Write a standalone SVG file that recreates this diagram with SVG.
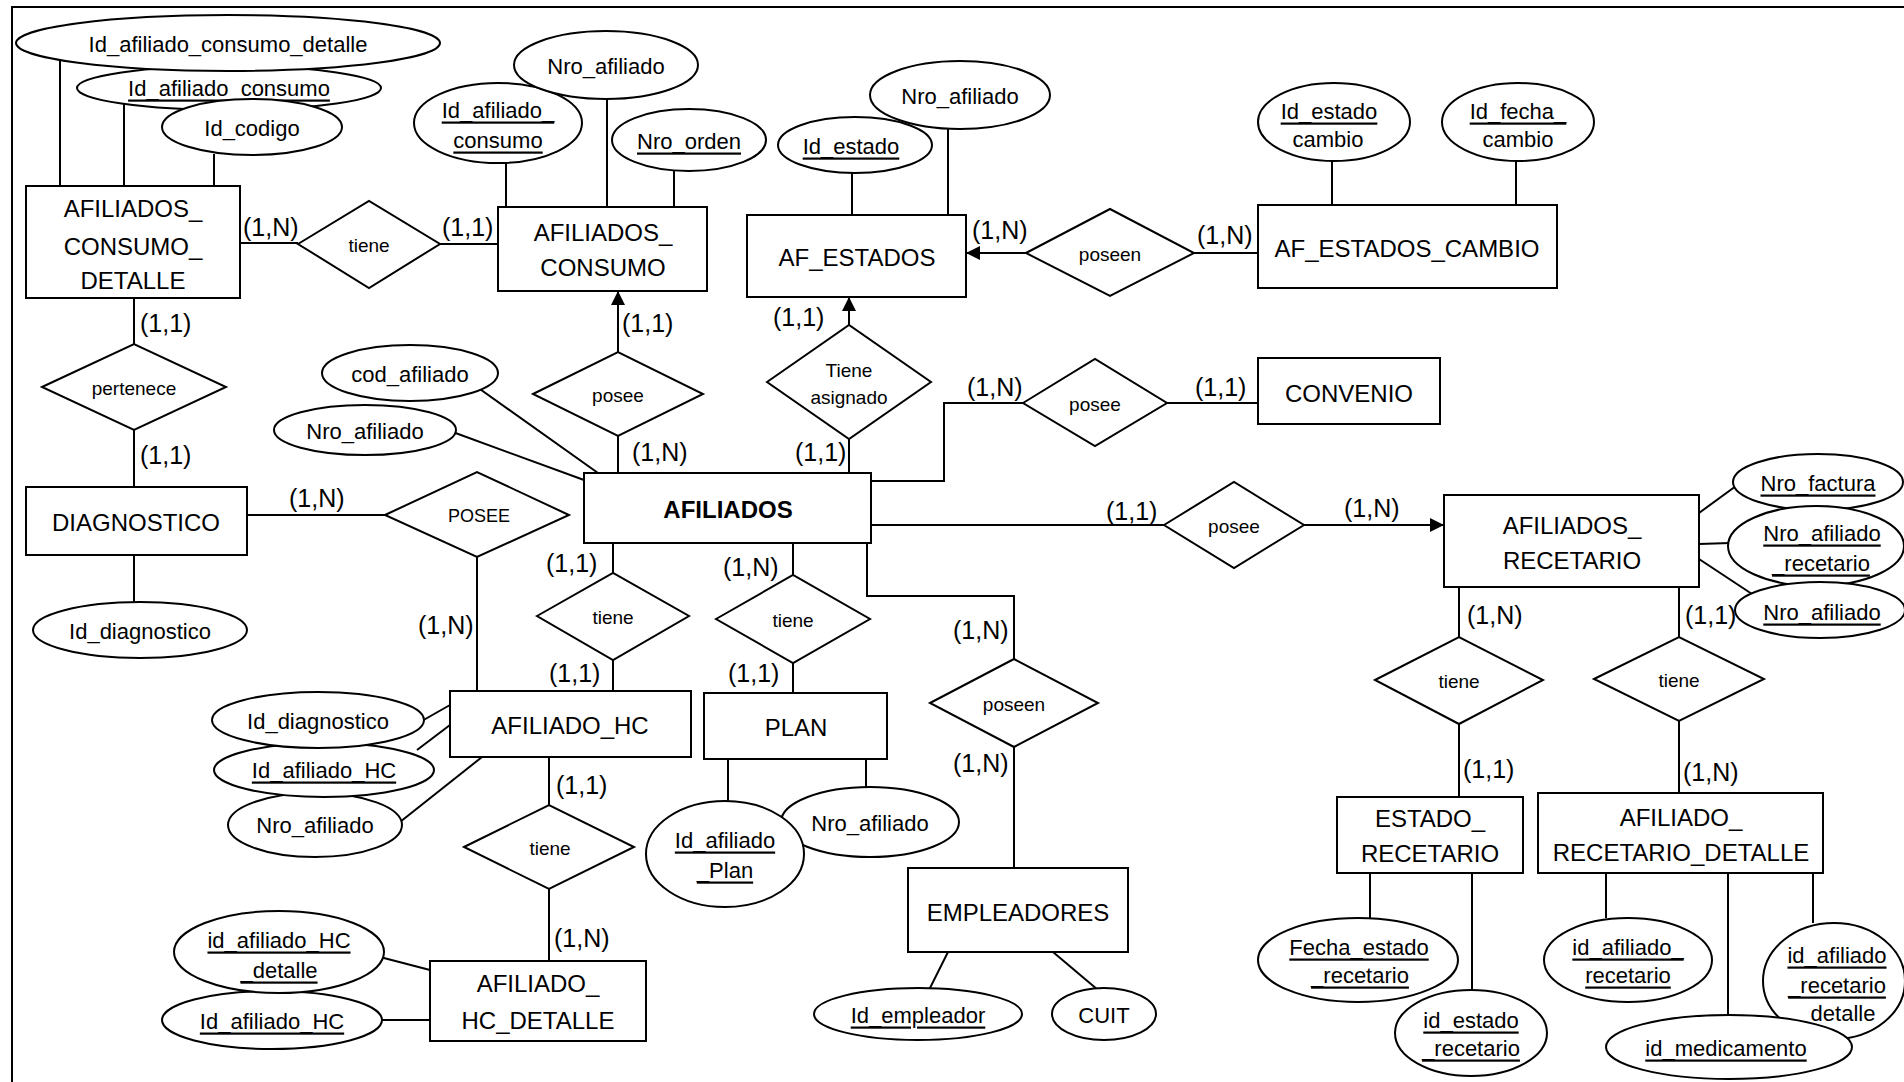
<svg xmlns="http://www.w3.org/2000/svg" width="1904" height="1082" viewBox="0 0 1904 1082">
<defs>
<marker id="arr" markerWidth="14" markerHeight="14" refX="13" refY="7" orient="auto" markerUnits="userSpaceOnUse">
<path d="M0,0 L14,7 L0,14 Z" fill="#000"/>
</marker>
<style>
rect,ellipse,polygon{fill:#fff;stroke:#000;stroke-width:2}
line,polyline{stroke:#000;stroke-width:2;fill:none}
text{font-family:"Liberation Sans",Arial,sans-serif;fill:#000;text-anchor:middle;dominant-baseline:central}
.ent{font-size:24px}
.att{font-size:22px}
.rel{font-size:19px}
.card{font-size:25px;text-anchor:start}
.u{text-decoration:underline}
.b{font-weight:bold}
</style>
</defs>
<rect x="0" y="0" width="1904" height="1082" style="fill:#fff;stroke:none"/>
<polyline points="12,1082 12,7 1904,7"/>

<g id="connectors">
<line x1="60" y1="60" x2="60" y2="186"/>
<line x1="124" y1="104" x2="124" y2="186"/>
<line x1="214" y1="154" x2="214" y2="186"/>
<line x1="506" y1="160" x2="506" y2="207"/>
<line x1="607" y1="99" x2="607" y2="207"/>
<line x1="674" y1="170" x2="674" y2="207"/>
<line x1="852" y1="173" x2="852" y2="215"/>
<line x1="948" y1="128" x2="948" y2="215"/>
<line x1="1332" y1="161" x2="1332" y2="205"/>
<line x1="1516" y1="161" x2="1516" y2="205"/>
<line x1="470" y1="382" x2="598" y2="473"/>
<line x1="450" y1="431" x2="584" y2="480"/>
<line x1="134" y1="555" x2="134" y2="603"/>
<line x1="420" y1="722" x2="450" y2="705"/>
<line x1="417" y1="750" x2="450" y2="725"/>
<line x1="400" y1="822" x2="482" y2="757"/>
<line x1="380" y1="957" x2="430" y2="970"/>
<line x1="380" y1="1020" x2="430" y2="1020"/>
<line x1="728" y1="759" x2="728" y2="801"/>
<line x1="866" y1="759" x2="866" y2="790"/>
<line x1="948" y1="952" x2="929" y2="990"/>
<line x1="1053" y1="952" x2="1098" y2="990"/>
<line x1="1699" y1="513" x2="1736" y2="486"/>
<line x1="1699" y1="544" x2="1730" y2="543"/>
<line x1="1699" y1="559" x2="1752" y2="594"/>
<line x1="1370" y1="873" x2="1370" y2="918"/>
<line x1="1472" y1="873" x2="1472" y2="992"/>
<line x1="1606" y1="873" x2="1606" y2="918"/>
<line x1="1728" y1="873" x2="1728" y2="1015"/>
<line x1="1813" y1="873" x2="1813" y2="923"/>

<line x1="240" y1="243" x2="298" y2="243"/>
<line x1="440" y1="244" x2="498" y2="244"/>
<line x1="134" y1="298" x2="134" y2="344"/>
<line x1="134" y1="430" x2="134" y2="487"/>
<line x1="618" y1="473" x2="618" y2="436"/>
<line x1="618" y1="352" x2="618" y2="292" marker-end="url(#arr)"/>
<line x1="849" y1="473" x2="849" y2="439"/>
<line x1="849" y1="325" x2="849" y2="298" marker-end="url(#arr)"/>
<line x1="1258" y1="253" x2="1194" y2="253"/>
<line x1="1026" y1="253" x2="967" y2="253" marker-end="url(#arr)"/>
<polyline points="871,481 944,481 944,403 1023,403"/>
<line x1="1167" y1="403" x2="1258" y2="403"/>
<line x1="247" y1="515" x2="385" y2="515"/>
<line x1="477" y1="557" x2="477" y2="691"/>
<line x1="871" y1="525" x2="1164" y2="525"/>
<line x1="1304" y1="525" x2="1443" y2="525" marker-end="url(#arr)"/>
<line x1="613" y1="543" x2="613" y2="573"/>
<line x1="613" y1="660" x2="613" y2="691"/>
<line x1="793" y1="543" x2="793" y2="575"/>
<line x1="793" y1="663" x2="793" y2="693"/>
<polyline points="867,543 867,596 1014,596 1014,659"/>
<line x1="1014" y1="747" x2="1014" y2="868"/>
<line x1="549" y1="757" x2="549" y2="805"/>
<line x1="549" y1="889" x2="549" y2="961"/>
<line x1="1459" y1="587" x2="1459" y2="637"/>
<line x1="1459" y1="724" x2="1459" y2="797"/>
<line x1="1679" y1="587" x2="1679" y2="637"/>
<line x1="1679" y1="721" x2="1679" y2="793"/>

<text class="card" x="243" y="227">(1,N)</text>
<text class="card" x="442" y="227">(1,1)</text>
<text class="card" x="140" y="323">(1,1)</text>
<text class="card" x="140" y="455">(1,1)</text>
<text class="card" x="289" y="498">(1,N)</text>
<text class="card" x="418" y="625">(1,N)</text>
<text class="card" x="622" y="323">(1,1)</text>
<text class="card" x="632" y="452">(1,N)</text>
<text class="card" x="773" y="317">(1,1)</text>
<text class="card" x="795" y="452">(1,1)</text>
<text class="card" x="972" y="230">(1,N)</text>
<text class="card" x="1197" y="235">(1,N)</text>
<text class="card" x="967" y="387">(1,N)</text>
<text class="card" x="1195" y="387">(1,1)</text>
<text class="card" x="1106" y="511">(1,1)</text>
<text class="card" x="1344" y="508">(1,N)</text>
<text class="card" x="546" y="563">(1,1)</text>
<text class="card" x="723" y="567">(1,N)</text>
<text class="card" x="953" y="630">(1,N)</text>
<text class="card" x="953" y="763">(1,N)</text>
<text class="card" x="549" y="673">(1,1)</text>
<text class="card" x="728" y="673">(1,1)</text>
<text class="card" x="556" y="785">(1,1)</text>
<text class="card" x="554" y="938">(1,N)</text>
<text class="card" x="1467" y="615">(1,N)</text>
<text class="card" x="1685" y="615">(1,1)</text>
<text class="card" x="1463" y="769">(1,1)</text>
<text class="card" x="1683" y="772">(1,N)</text>
</g>

<g id="e_consumo_detalle"><rect x="26" y="186" width="214" height="112"/><text class="ent" x="133" y="208">AFILIADOS_</text><text class="ent" x="133" y="246">CONSUMO_</text><text class="ent" x="133" y="280">DETALLE</text></g>
<g id="e_consumo"><rect x="498" y="207" width="209" height="84"/><text class="ent" x="603" y="232">AFILIADOS_</text><text class="ent" x="603" y="267">CONSUMO</text></g>
<g id="e_af_estados"><rect x="747" y="215" width="219" height="82"/><text class="ent" x="857" y="257">AF_ESTADOS</text></g>
<g id="e_af_estados_cambio"><rect x="1258" y="205" width="299" height="83"/><text class="ent" x="1407" y="248">AF_ESTADOS_CAMBIO</text></g>
<g id="e_convenio"><rect x="1258" y="358" width="182" height="66"/><text class="ent" x="1349" y="393">CONVENIO</text></g>
<g id="e_afiliados"><rect x="584" y="473" width="287" height="70"/><text class="ent b" x="728" y="509">AFILIADOS</text></g>
<g id="e_diagnostico"><rect x="26" y="487" width="221" height="68"/><text class="ent" x="136" y="522">DIAGNOSTICO</text></g>
<g id="e_recetario"><rect x="1444" y="495" width="255" height="92"/><text class="ent" x="1572" y="525">AFILIADOS_</text><text class="ent" x="1572" y="560">RECETARIO</text></g>
<g id="e_afiliado_hc"><rect x="450" y="691" width="241" height="66"/><text class="ent" x="570" y="725">AFILIADO_HC</text></g>
<g id="e_plan"><rect x="704" y="693" width="183" height="66"/><text class="ent" x="796" y="727">PLAN</text></g>
<g id="e_empleadores"><rect x="908" y="868" width="220" height="84"/><text class="ent" x="1018" y="912">EMPLEADORES</text></g>
<g id="e_hc_detalle"><rect x="430" y="961" width="216" height="80"/><text class="ent" x="538" y="983">AFILIADO_</text><text class="ent" x="538" y="1020">HC_DETALLE</text></g>
<g id="e_estado_recetario"><rect x="1337" y="797" width="186" height="76"/><text class="ent" x="1430" y="818">ESTADO_</text><text class="ent" x="1430" y="853">RECETARIO</text></g>
<g id="e_recetario_detalle"><rect x="1538" y="793" width="285" height="80"/><text class="ent" x="1681" y="817">AFILIADO_</text><text class="ent" x="1681" y="852">RECETARIO_DETALLE</text></g>

<g id="r_tiene1"><polygon points="298,244 369,201 440,244 369,288"/><text class="rel" x="369" y="245">tiene</text></g>
<g id="r_pertenece"><polygon points="42,387 134,344 226,387 134,430"/><text class="rel" x="134" y="388">pertenece</text></g>
<g id="r_posee_consumo"><polygon points="533,394 618,352 703,394 618,436"/><text class="rel" x="618" y="395">posee</text></g>
<g id="r_tiene_asignado"><polygon points="767,382 849,325 931,382 849,439"/><text class="rel" x="849" y="370">Tiene</text><text class="rel" x="849" y="397">asignado</text></g>
<g id="r_poseen_estados"><polygon points="1026,253 1110,209 1194,253 1110,296"/><text class="rel" x="1110" y="254">poseen</text></g>
<g id="r_posee_convenio"><polygon points="1023,403 1095,359 1167,403 1095,446"/><text class="rel" x="1095" y="404">posee</text></g>
<g id="r_POSEE"><polygon points="385,515 477,472 569,515 477,557"/><text class="rel" x="479" y="516" style="font-size:18px">POSEE</text></g>
<g id="r_posee_recetario"><polygon points="1164,525 1234,482 1304,525 1234,568"/><text class="rel" x="1234" y="526">posee</text></g>
<g id="r_tiene_hc"><polygon points="537,616 613,573 689,616 613,660"/><text class="rel" x="613" y="617">tiene</text></g>
<g id="r_tiene_plan"><polygon points="716,619 793,575 870,619 793,663"/><text class="rel" x="793" y="620">tiene</text></g>
<g id="r_poseen_emp"><polygon points="930,703 1014,659 1098,703 1014,747"/><text class="rel" x="1014" y="704">poseen</text></g>
<g id="r_tiene_hcdet"><polygon points="464,847 549,805 634,847 549,889"/><text class="rel" x="550" y="848">tiene</text></g>
<g id="r_tiene_estrec"><polygon points="1375,680 1459,637 1543,680 1459,724"/><text class="rel" x="1459" y="681">tiene</text></g>
<g id="r_tiene_recdet"><polygon points="1594,679 1679,637 1764,679 1679,721"/><text class="rel" x="1679" y="680">tiene</text></g>

<g id="a_id_afiliado_consumo"><ellipse cx="229" cy="88" rx="152" ry="22"/><text class="att u" x="229" y="88">Id_afiliado_consumo</text></g>
<g id="a_id_afiliado_consumo_detalle"><ellipse cx="228" cy="43" rx="212" ry="28"/><text class="att" x="228" y="44">Id_afiliado_consumo_detalle</text></g>
<g id="a_id_codigo"><ellipse cx="252" cy="127" rx="90" ry="28"/><text class="att" x="252" y="128">Id_codigo</text></g>
<g id="a_id_afiliado_consumo2"><ellipse cx="498" cy="123" rx="84" ry="40"/><text class="att u" x="498" y="110">Id_afiliado_</text><text class="att u" x="498" y="140">consumo</text></g>
<g id="a_nro_afiliado1"><ellipse cx="606" cy="65" rx="92" ry="34"/><text class="att" x="606" y="66">Nro_afiliado</text></g>
<g id="a_nro_orden"><ellipse cx="689" cy="140" rx="77" ry="31"/><text class="att u" x="689" y="141">Nro_orden</text></g>
<g id="a_id_estado"><ellipse cx="855" cy="145" rx="77" ry="28"/><text class="att u" x="851" y="146">Id_estado</text></g>
<g id="a_nro_afiliado2"><ellipse cx="960" cy="95" rx="90" ry="34"/><text class="att" x="960" y="96">Nro_afiliado</text></g>
<g id="a_id_estado_cambio"><ellipse cx="1334" cy="122" rx="76" ry="39"/><text class="att u" x="1329" y="111">Id_estado</text><text class="att" x="1328" y="139">cambio</text></g>
<g id="a_id_fecha_cambio"><ellipse cx="1518" cy="122" rx="76" ry="39"/><text class="att u" x="1518" y="111">Id_fecha_</text><text class="att" x="1518" y="139">cambio</text></g>
<g id="a_cod_afiliado"><ellipse cx="410" cy="373" rx="88" ry="28"/><text class="att" x="410" y="374">cod_afiliado</text></g>
<g id="a_nro_afiliado3"><ellipse cx="365" cy="430" rx="91" ry="25"/><text class="att" x="365" y="431">Nro_afiliado</text></g>
<g id="a_id_diagnostico"><ellipse cx="140" cy="630" rx="107" ry="28"/><text class="att" x="140" y="631">Id_diagnostico</text></g>
<g id="a_nro_afiliado_hc"><ellipse cx="315" cy="825" rx="87" ry="32"/><text class="att" x="315" y="825">Nro_afiliado</text></g>
<g id="a_id_afiliado_hc"><ellipse cx="324" cy="770" rx="110" ry="27"/><text class="att u" x="324" y="770">Id_afiliado_HC</text></g>
<g id="a_id_diagnostico_hc"><ellipse cx="318" cy="720" rx="106" ry="28"/><text class="att" x="318" y="721">Id_diagnostico</text></g>
<g id="a_id_afiliado_hc2"><ellipse cx="272" cy="1020" rx="110" ry="29"/><text class="att u" x="272" y="1021">Id_afiliado_HC</text></g>
<g id="a_id_afiliado_hc_detalle"><ellipse cx="279" cy="952" rx="105" ry="41"/><text class="att u" x="279" y="940">id_afiliado_HC</text><text class="att u" x="279" y="970">_detalle</text></g>
<g id="a_nro_afiliado_plan"><ellipse cx="870" cy="822" rx="89" ry="35"/><text class="att" x="870" y="823">Nro_afiliado</text></g>
<g id="a_id_afiliado_plan"><ellipse cx="725" cy="854" rx="79" ry="53"/><text class="att u" x="725" y="840">Id_afiliado</text><text class="att u" x="725" y="870">_Plan</text></g>
<g id="a_id_empleador"><ellipse cx="918" cy="1014" rx="104" ry="26"/><text class="att u" x="918" y="1015">Id_empleador</text></g>
<g id="a_cuit"><ellipse cx="1104" cy="1014" rx="52" ry="26"/><text class="att" x="1104" y="1015">CUIT</text></g>
<g id="a_nro_factura"><ellipse cx="1818" cy="482" rx="85" ry="28"/><text class="att u" x="1818" y="483">Nro_factura</text></g>
<g id="a_nro_afiliado_recetario"><ellipse cx="1816" cy="546" rx="88" ry="40"/><text class="att u" x="1822" y="533">Nro_afiliado</text><text class="att u" x="1821" y="563">_recetario</text></g>
<g id="a_nro_afiliado_rec"><ellipse cx="1820" cy="610" rx="85" ry="28"/><text class="att u" x="1822" y="612">Nro_afiliado</text></g>
<g id="a_fecha_estado"><ellipse cx="1358" cy="960" rx="100" ry="42"/><text class="att u" x="1359" y="947">Fecha_estado</text><text class="att u" x="1360" y="975">_recetario</text></g>
<g id="a_id_estado_rec"><ellipse cx="1471" cy="1033" rx="76" ry="43"/><text class="att u" x="1471" y="1020">id_estado</text><text class="att u" x="1471" y="1048">_recetario</text></g>
<g id="a_id_afiliado_rec"><ellipse cx="1628" cy="960" rx="84" ry="42"/><text class="att u" x="1628" y="947">id_afiliado_</text><text class="att u" x="1628" y="975">recetario</text></g>
<g id="a_id_afiliado_rec_det"><ellipse cx="1834" cy="981" rx="71" ry="58"/><text class="att u" x="1837" y="955">id_afiliado</text><text class="att u" x="1837" y="985">_recetario</text><text class="att" x="1843" y="1013">detalle</text></g>
<g id="a_id_medicamento"><ellipse cx="1729" cy="1047" rx="123" ry="32"/><text class="att u" x="1726" y="1048">id_medicamento</text></g>
</svg>
